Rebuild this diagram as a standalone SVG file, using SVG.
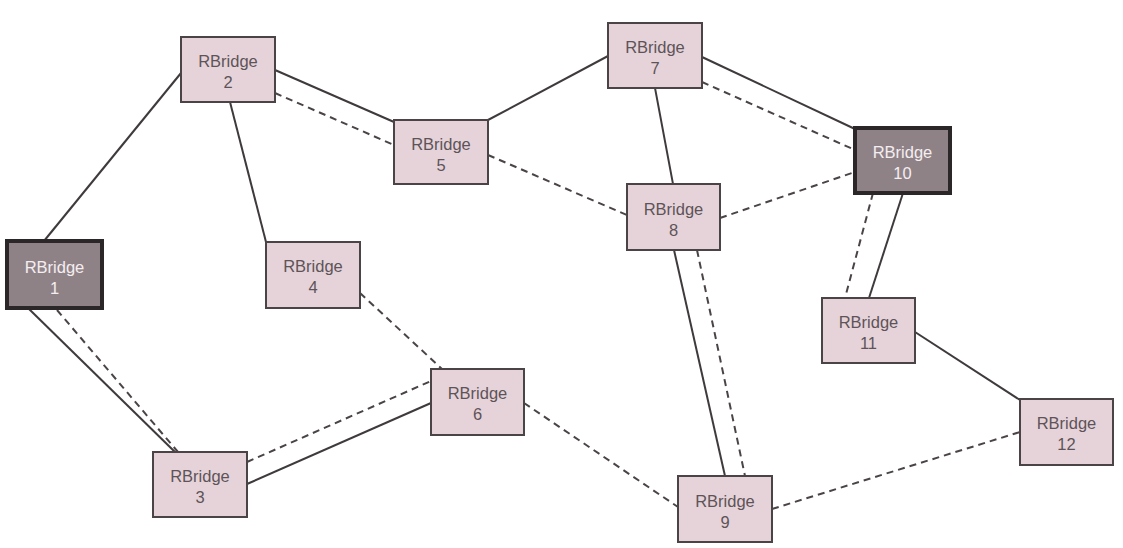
<svg xmlns="http://www.w3.org/2000/svg" width="1123" height="548" viewBox="0 0 1123 548">
<style>
.n rect{fill:#e6d3da;stroke:#4a4447;stroke-width:2}
.n text{fill:#5e5358;font-family:"Helvetica","Liberation Sans",Arial,sans-serif;font-size:16.5px;text-anchor:middle}
.d rect{fill:#8f8287;stroke:#2b2628;stroke-width:4}
.d text{fill:#f4eef0}
.s{stroke:#3f3a3c;stroke-width:2;fill:none}
.k{stroke:#4a4447;stroke-width:2;fill:none;stroke-dasharray:7 5}
</style>
<rect width="1123" height="548" fill="#ffffff"/>
<g id="connectors">
<line class="s" x1="44" y1="241" x2="181" y2="73"/>
<line class="s" x1="28" y1="308" x2="175" y2="452"/>
<line class="k" x1="57" y1="310" x2="178" y2="452"/>
<line class="s" x1="275" y1="70" x2="394" y2="122"/>
<line class="k" x1="275" y1="93" x2="394" y2="145"/>
<line class="s" x1="230" y1="102" x2="266" y2="242"/>
<line class="k" x1="360" y1="293" x2="442" y2="369"/>
<line class="s" x1="247" y1="484" x2="431" y2="403"/>
<line class="k" x1="247" y1="462" x2="431" y2="381"/>
<line class="s" x1="488" y1="120" x2="608" y2="56"/>
<line class="k" x1="488" y1="155" x2="627" y2="215"/>
<line class="s" x1="655" y1="88" x2="673" y2="184"/>
<line class="s" x1="702" y1="57" x2="855" y2="129"/>
<line class="k" x1="702" y1="82" x2="855" y2="150"/>
<line class="k" x1="720" y1="218" x2="855" y2="172"/>
<line class="s" x1="674" y1="250" x2="725" y2="476"/>
<line class="k" x1="697" y1="250" x2="745" y2="476"/>
<line class="s" x1="903" y1="193" x2="869" y2="298"/>
<line class="k" x1="873" y1="193" x2="845" y2="298"/>
<line class="s" x1="915" y1="332" x2="1020" y2="400"/>
<line class="k" x1="524" y1="403" x2="678" y2="507"/>
<line class="k" x1="772" y1="509" x2="1020" y2="432"/>
</g>
<g id="node1" class="n d"><rect x="7" y="241" width="95" height="67"/><text x="54.5" y="273">RBridge</text><text x="54.5" y="294">1</text></g>
<g id="node2" class="n"><rect x="181" y="37" width="94" height="65"/><text x="228" y="67">RBridge</text><text x="228" y="88">2</text></g>
<g id="node3" class="n"><rect x="153" y="452" width="94" height="65"/><text x="200" y="482">RBridge</text><text x="200" y="503">3</text></g>
<g id="node4" class="n"><rect x="266" y="242" width="94" height="66"/><text x="313" y="272">RBridge</text><text x="313" y="293">4</text></g>
<g id="node5" class="n"><rect x="394" y="120" width="94" height="64"/><text x="441" y="150">RBridge</text><text x="441" y="171">5</text></g>
<g id="node6" class="n"><rect x="431" y="369" width="93" height="66"/><text x="477.5" y="399">RBridge</text><text x="477.5" y="420">6</text></g>
<g id="node7" class="n"><rect x="608" y="23" width="94" height="65"/><text x="655" y="53">RBridge</text><text x="655" y="74">7</text></g>
<g id="node8" class="n"><rect x="627" y="184" width="93" height="66"/><text x="673.5" y="215">RBridge</text><text x="673.5" y="236">8</text></g>
<g id="node9" class="n"><rect x="678" y="476" width="94" height="66"/><text x="725" y="507">RBridge</text><text x="725" y="528">9</text></g>
<g id="node10" class="n d"><rect x="855" y="128" width="95" height="65"/><text x="902.5" y="158">RBridge</text><text x="902.5" y="179">10</text></g>
<g id="node11" class="n"><rect x="822" y="298" width="93" height="65"/><text x="868.5" y="328">RBridge</text><text x="868.5" y="349">11</text></g>
<g id="node12" class="n"><rect x="1020" y="399" width="93" height="66"/><text x="1066.5" y="429">RBridge</text><text x="1066.5" y="450">12</text></g>
</svg>
